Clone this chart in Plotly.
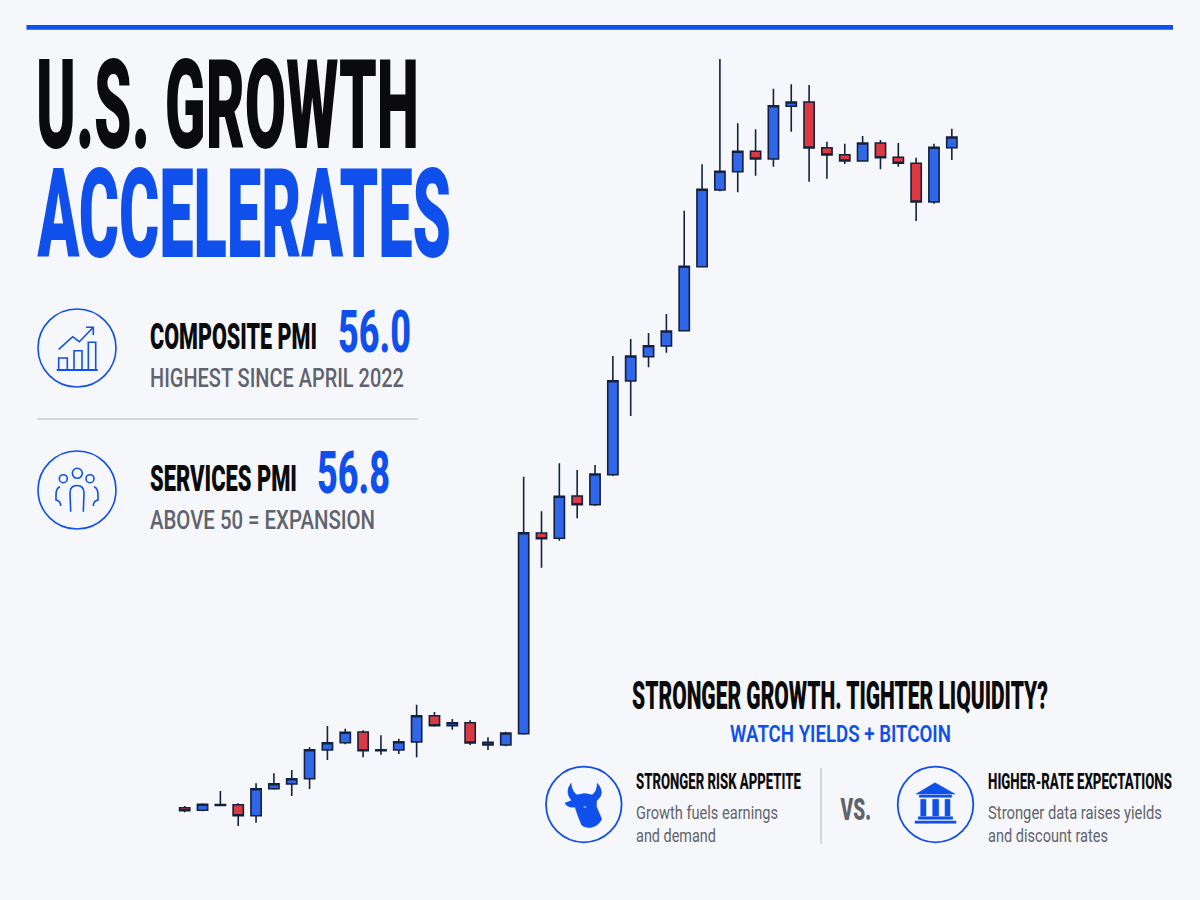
import json
import plotly.graph_objects as go

# candle values (unitless, the reference has no price axis)
opens = [92.3, 89.7, 94.5, 95.3, 84.3, 111.3, 116, 121.3, 150, 157.3, 168, 149.3, 150, 158, 184.3, 174.3, 177.3, 157.7, 155, 166.3,
         367, 361.7, 404, 395.3, 425.3, 519, 543.3, 554, 569.3, 633.3, 710, 728.3, 748.7, 741, 793.7, 798, 752.3, 745.3, 739, 757, 742.7, 736.7, 698, 752.3]
highs = [94, 96.7, 109, 96.7, 116.7, 126.7, 130, 152.7, 174, 171.3, 169.7, 164.7, 161.3, 195.3, 188, 181, 179.7, 162.7, 168.3, 423.3,
         388.7, 436.7, 430, 435, 544, 561, 567, 586, 689.3, 735.7, 841, 776.7, 770.7, 811.3, 815.7, 815, 758.3, 756.3, 764, 760, 757, 742.3, 756.3, 771.3]
lows = [87.7, 88.7, 94.5, 74, 77.3, 110.3, 104, 111, 140, 155.7, 142.7, 145.3, 146, 142.7, 173.3, 170.3, 155, 150, 153.7, 165.3,
        332.3, 359.3, 381.7, 394, 424, 484, 532.7, 547.3, 569, 632.7, 708.7, 707.7, 724.3, 733.3, 768.3, 718.3, 721.3, 736, 738.3, 730.7, 733.3, 679, 696.3, 740]
closes = [89.3, 95.7, 95.5, 84.3, 111.3, 116.3, 121.3, 150.3, 157.3, 167.7, 149.3, 150.3, 158.3, 184.3, 174.3, 177.3, 157, 155, 167, 367.3,
          361.3, 403.7, 395.3, 426, 519.3, 544, 554.3, 569, 633.7, 710.7, 728.7, 748.7, 741, 794.3, 798, 752, 745, 739, 757, 742.3, 736.7, 698, 752.7, 763]
sessions = list(range(len(opens)))

BG = "#f6f7fa"
BLUE = "#0f4fec"
INK = "#0b0b0d"
GRAY = "#5f636d"
RULE = "#c9ccd2"
CANDLE_LINE = "#14213d"

fig = go.Figure()
fig.add_trace(go.Candlestick(
    x=sessions, open=opens, high=highs, low=lows, close=closes,
    increasing=dict(fillcolor="#2f66ea", line=dict(color=CANDLE_LINE, width=1.6)),
    decreasing=dict(fillcolor="#dc3a42", line=dict(color=CANDLE_LINE, width=1.6)),
    whiskerwidth=0, showlegend=False,
))
# empty trace so the page-pixel axes exist for the shapes and text
fig.add_trace(go.Scatter(x=[], y=[], xaxis="x2", yaxis="y2", showlegend=False, hoverinfo="skip"))

shapes = []
annotations = []
widths = []


def label(text, x0, x1, y, size, color, weight=400, family="Roboto"):
    # x0..x1 is the width the text should fill, y is the middle of the capitals
    annotations.append(dict(text=text, x=x0 - 2, y=y, xref="x2", yref="y2", xanchor="left", yanchor="middle",
                            showarrow=False, font=dict(family=family, size=size, color=color, weight=weight)))
    widths.append(x1 - x0)


def stroke(path, width=1.6, color=BLUE):
    shapes.append(dict(type="path", path=path, xref="x2", yref="y2", line=dict(color=color, width=width)))


def solid(path, color=BLUE):
    shapes.append(dict(type="path", path=path, xref="x2", yref="y2", fillcolor=color, line=dict(color=color, width=0.5)))


def circle(cx, cy, r, width=1.6):
    shapes.append(dict(type="circle", x0=cx - r, x1=cx + r, y0=cy - r, y1=cy + r, xref="x2", yref="y2",
                       line=dict(color=BLUE, width=width)))


def rule(x0, y0, x1, y1, color=RULE, width=1.5):
    shapes.append(dict(type="line", x0=x0, x1=x1, y0=y0, y1=y1, xref="x2", yref="y2", line=dict(color=color, width=width)))


# top bar
shapes.append(dict(type="rect", x0=26.5, x1=1173, y0=25, y1=29.7, xref="x2", yref="y2", fillcolor=BLUE, line_width=0))

# headline
label("U.S. GROWTH", 36, 419, 105, 124, INK, 900)
label("ACCELERATES", 37, 451, 214, 124, BLUE, 900)

# PMI block
label("COMPOSITE PMI", 150, 317, 336, 37, INK, 900)
label("56.0", 338, 411, 331, 59, BLUE, 800)
label("HIGHEST SINCE APRIL 2022", 150, 404, 378, 25, GRAY, 500)
rule(37, 419, 418, 419)
label("SERVICES PMI", 150, 297, 478, 37, INK, 900)
label("56.8", 317, 390, 472, 59, BLUE, 800)
label("ABOVE 50 = EXPANSION", 150, 375, 520, 25, GRAY, 500)

# chart icon
circle(77, 348, 39)
rule(56.7, 370, 97.7, 370, BLUE, 1.8)
stroke("M58.7,370 L58.7,358 L67.3,358 L67.3,370")
stroke("M74,370 L74,350.7 L82,350.7 L82,370")
stroke("M88.3,370 L88.3,342.3 L95.7,342.3 L95.7,370")
stroke("M58.7,349.3 L72.7,336.7 L79.3,341.7 L93.3,327.3")
stroke("M86,327.3 L93.3,327.3 L93.3,335")

# people icon
circle(77, 490, 39)
circle(77.3, 473.3, 5)
circle(63.3, 478.7, 4)
circle(90, 478.7, 4)
stroke("M70.7,511.7 L70,493 Q70,485.5 77,485.5 Q84,485.5 84,493 L83.3,511.7")
stroke("M60,486.7 Q56,488 56,495 L56,500 Q60.7,501 60.7,506")
stroke("M94,486.7 Q98,488 98,495 L98,500 Q93.3,501 93.3,506")

# bottom right block
label("STRONGER GROWTH. TIGHTER LIQUIDITY?", 632, 1048, 696, 39, INK, 900)
label("WATCH YIELDS + BITCOIN", 730, 951, 734, 24, BLUE, 600)

# bull icon
circle(583.8, 804.5, 37.8, 1.8)
solid("M565,803 L571.5,800.5 Q564.5,792 571,783.3 Q572,792 577,795 Q585,792 592,795 Q597,792 597.3,783.3 "
      "Q606,793 596.5,801 L596.5,806.7 L601.7,819 Q599,826 590,827.7 Q583,827 581.7,825 L578.3,816.7 L575,807 Q567,808 565,803 Z")
shapes.append(dict(type="circle", x0=583.5, x1=586.5, y0=806, y1=808, xref="x2", yref="y2", fillcolor="#8fa8ee", line_width=0))
label("STRONGER RISK APPETITE", 636, 801, 781, 22, INK, 800)
label("Growth fuels earnings", 636, 778, 812, 18, GRAY)
label("and demand", 636, 716, 835, 18, GRAY)

rule(821, 768, 821, 844)
label("VS.", 840, 871, 809, 32, GRAY, 900)

# bank icon
circle(935.5, 804.5, 37.8, 1.8)
solid("M935,782.7 L916,794 L955,794 Z")
solid("M919.3,795 L951.7,795 L951.7,797.3 L919.3,797.3 Z")
solid("M920.7,799.3 L926,799.3 L926,816 L920.7,816 Z")
solid("M932.7,799.3 L938.7,799.3 L938.7,816 L932.7,816 Z")
solid("M945,799.3 L950,799.3 L950,816 L945,816 Z")
solid("M918.3,816.7 L952.7,816.7 L952.7,819.3 L918.3,819.3 Z")
solid("M915,821 L956,821 L956,823.3 L915,823.3 Z")
label("HIGHER-RATE EXPECTATIONS", 988, 1172, 781, 22, INK, 800)
label("Stronger data raises yields", 988, 1162, 812, 18, GRAY)
label("and discount rates", 988, 1108, 835, 18, GRAY)

hidden = dict(visible=False, showgrid=False, zeroline=False, fixedrange=True)
fig.update_layout(
    width=1200, height=900,
    margin=dict(l=0, r=0, t=0, b=0),
    paper_bgcolor=BG, plot_bgcolor=BG,
    showlegend=False,
    boxgap=0.18,
    shapes=shapes, annotations=annotations,
    # index axis placed so candle 0 sits at 184.7px and candles are 17.84px apart
    xaxis=dict(range=[-10.353, 56.911], rangeslider=dict(visible=False), **hidden),
    yaxis=dict(range=[0, 900], **hidden),
    xaxis2=dict(range=[0, 1200], overlaying="x", anchor="y2", **hidden),
    yaxis2=dict(range=[900, 0], overlaying="y", anchor="x2", **hidden),
)

# squeeze each text sideways to the condensed width of the reference, no condensed face is installed
post_script = """
document.body.style.margin = '0';
document.body.style.overflow = 'hidden';
var widths = %s;
document.querySelectorAll('g.annotation').forEach(function (g) {
  var t = g.querySelector('text.annotation-text');
  var want = widths[+g.getAttribute('data-index')];
  var b = t.getBBox();
  t.setAttribute('transform', 'translate(' + b.x + ',0) scale(' + want / b.width + ',1) translate(' + -b.x + ',0)');
});
""" % json.dumps(widths)

fig.write_html("out.html", post_script=post_script, config={"displayModeBar": False})
